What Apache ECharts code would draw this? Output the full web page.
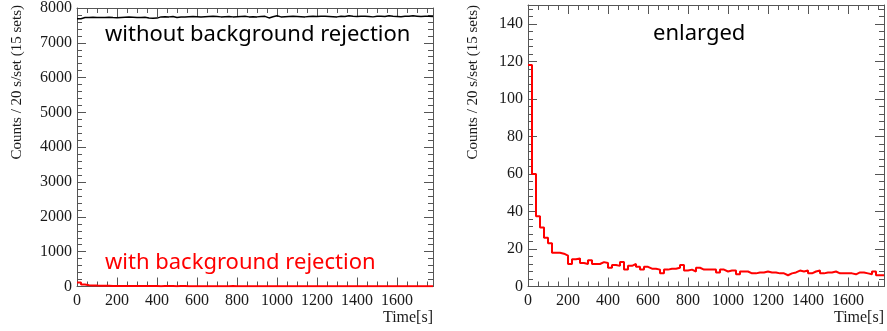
<!DOCTYPE html>
<html>
<head>
<meta charset="utf-8">
<script src="https://cdn.jsdelivr.net/npm/echarts@6/dist/echarts.min.js"></script>
<style>
  html, body { margin: 0; padding: 0; background: #fff; }
  #chart { width: 887px; height: 331px; }
</style>
</head>
<body>
<div id="chart"></div>
<script>
// bins of 20 s, 0 .. 1780 s
const binWidth = 20
const timeMax = 1780

// counts per bin, without background rejection (left panel, black)
const withoutRejection = [
  7690, 7725, 7730, 7735, 7730, 7725, 7730, 7735, 7725, 7720,
  7730, 7735, 7740, 7735, 7730, 7725, 7735, 7715, 7705, 7710,
  7745, 7750, 7745, 7755, 7725, 7740, 7745, 7750, 7755, 7750,
  7745, 7750, 7755, 7760, 7755, 7745, 7750, 7755, 7745, 7750,
  7755, 7760, 7745, 7750, 7745, 7755, 7760, 7715, 7750, 7775,
  7745, 7750, 7755, 7760, 7755, 7750, 7745, 7755, 7760, 7755,
  7765, 7760, 7755, 7750, 7745, 7760, 7755, 7775, 7760, 7755,
  7765, 7760, 7755, 7745, 7760, 7765, 7755, 7775, 7760, 7755,
  7750, 7765, 7760, 7775, 7765, 7755, 7760, 7765, 7755
]

// counts per bin, with background rejection (red, both panels)
const withRejection = [
  118, 60, 37.5, 31.5, 26, 23, 18, 18, 17.5, 16.5,
  12, 14.5, 15, 12.5, 12, 14, 12, 12, 13, 12.5,
  10, 11.5, 11, 13, 9, 11, 12, 10.5, 9, 10.5,
  9.5, 9.5, 9, 7, 9, 9.5, 9.5, 10, 11.5, 8.5,
  9, 8, 10, 9, 9, 9, 9, 7.5, 9, 8,
  8.5, 8.5, 6.5, 8, 8, 7, 7, 7.5, 7.5, 8,
  7.5, 7.5, 7, 7, 6, 7, 7.5, 8.5, 8, 8.5,
  7, 8, 8.5, 7, 7.5, 7.5, 8, 7, 7, 7,
  7, 6.5, 7.5, 7.5, 7, 6.5, 8, 6, 6
]

const leftYMax = 8000
const leftYStep = 1000
const rightYMax = 150
const rightYStep = 20
const xStep = 200

const yName = 'Counts / 20 s/set (15 sets)'

// histogram outline: one point per bin edge
function histPoints(values) {
  const pts = values.map((v, i) => [i * binWidth, v])
  pts.push([values.length * binWidth, values[values.length - 1]])
  return pts
}

const chart = echarts.init(document.getElementById('chart'))

const frameColor = '#555'
const labelFont = { fontFamily: 'Liberation Serif', fontSize: 16, color: '#1a1a1a', formatter: (v) => String(v) }

function xAxisFor(grid, pos) {
  return {
    type: 'value', gridIndex: grid, position: pos,
    min: 0, max: timeMax, interval: xStep,
    axisLine: { show: true, onZero: false, lineStyle: { color: frameColor, width: 1 } },
    axisTick: { show: true, inside: true, length: 9, lineStyle: { color: frameColor } },
    minorTick: { show: true, splitNumber: 4, length: 5, lineStyle: { color: frameColor } },
    axisLabel: Object.assign({ show: pos === 'bottom', margin: 6, showMaxLabel: false }, labelFont),
    splitLine: { show: false }
  }
}

function yAxisFor(grid, pos, max, step) {
  return {
    type: 'value', gridIndex: grid, position: pos,
    min: 0, max: max, interval: step,
    axisLine: { show: true, onZero: false, lineStyle: { color: frameColor, width: 1 } },
    axisTick: { show: true, inside: true, length: 9, lineStyle: { color: frameColor } },
    minorTick: { show: true, splitNumber: 5, length: 5, lineStyle: { color: frameColor } },
    axisLabel: Object.assign({ show: pos === 'left', margin: 5, showMaxLabel: max % step === 0 }, labelFont),
    splitLine: { show: false }
  }
}

const textFont = '22px "Noto Sans"'
const serifFont = '15px "Liberation Serif"'

const option = {
  animation: false,
  backgroundColor: '#fff',
  grid: [
    { left: 77, top: 5, width: 356, height: 281.5 },
    { left: 528, top: 5, width: 356, height: 281.5 }
  ],
  xAxis: [
    xAxisFor(0, 'bottom'), xAxisFor(0, 'top'),
    xAxisFor(1, 'bottom'), xAxisFor(1, 'top')
  ],
  yAxis: [
    yAxisFor(0, 'left', leftYMax, leftYStep), yAxisFor(0, 'right', leftYMax, leftYStep),
    yAxisFor(1, 'left', rightYMax, rightYStep), yAxisFor(1, 'right', rightYMax, rightYStep)
  ],
  series: [
    {
      type: 'line', step: 'end', xAxisIndex: 0, yAxisIndex: 0,
      data: histPoints(withoutRejection), showSymbol: false, symbol: 'none',
      lineStyle: { color: '#000', width: 1.5 }
    },
    {
      type: 'line', step: 'end', xAxisIndex: 0, yAxisIndex: 0,
      data: histPoints(withRejection), showSymbol: false, symbol: 'none',
      lineStyle: { color: '#ff0000', width: 2 }
    },
    {
      type: 'line', step: 'end', xAxisIndex: 2, yAxisIndex: 2,
      data: histPoints(withRejection), showSymbol: false, symbol: 'none',
      lineStyle: { color: '#ff0000', width: 2 }
    }
  ],
  graphic: [
    { type: 'text', x: 105, y: 35, style: { text: 'without background rejection', font: textFont, fill: '#000', textVerticalAlign: 'middle' } },
    { type: 'text', x: 105, y: 263, style: { text: 'with background rejection', font: textFont, fill: '#ff0000', textVerticalAlign: 'middle' } },
    { type: 'text', x: 653, y: 34, style: { text: 'enlarged', font: textFont, fill: '#000', textVerticalAlign: 'middle' } },
    { type: 'text', x: 17, y: 5, rotation: Math.PI / 2, style: { text: yName, font: serifFont, fill: '#1a1a1a', textAlign: 'right', textVerticalAlign: 'middle' } },
    { type: 'text', x: 473, y: 5, rotation: Math.PI / 2, style: { text: yName, font: serifFont, fill: '#1a1a1a', textAlign: 'right', textVerticalAlign: 'middle' } },
    { type: 'text', x: 433, y: 318, style: { text: 'Time[s]', font: '16px "Liberation Serif"', fill: '#1a1a1a', textAlign: 'right', textVerticalAlign: 'middle' } },
    { type: 'text', x: 884, y: 318, style: { text: 'Time[s]', font: '16px "Liberation Serif"', fill: '#1a1a1a', textAlign: 'right', textVerticalAlign: 'middle' } }
  ]
}

chart.setOption(option)
</script>
</body>
</html>
